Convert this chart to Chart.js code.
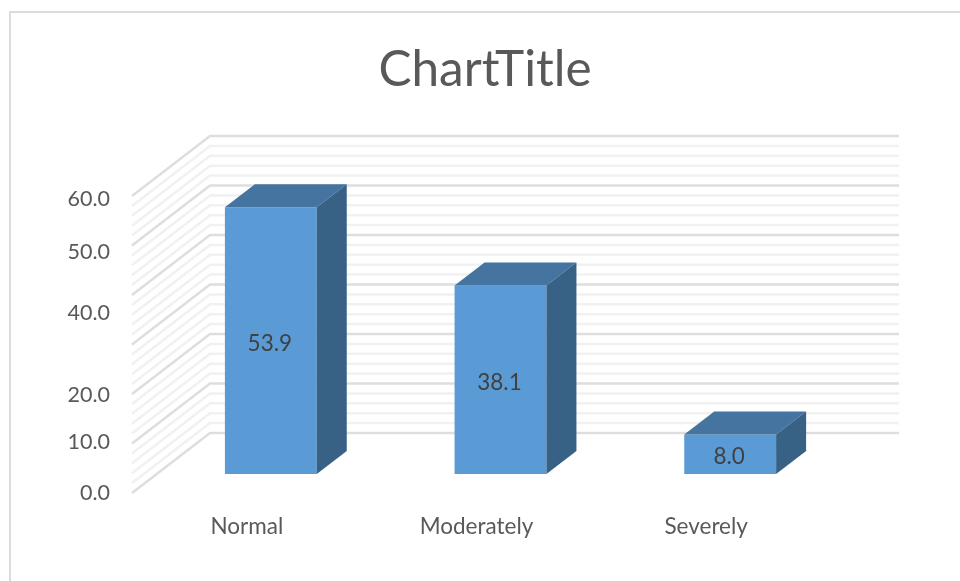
<!DOCTYPE html>
<html>
<head>
<meta charset="utf-8">
<title>ChartTitle</title>
<script src="https://cdn.jsdelivr.net/npm/chart.js@4"></script>
<style>
  html, body { margin: 0; background: #fff; }
  canvas { display: block; }
</style>
</head>
<body>
<canvas id="severityChart" width="960" height="581"></canvas>
<script>
const categories = ['Normal', 'Moderately', 'Severely'];
const percentages = [53.9, 38.1, 8.0];
const tickLabels = ['0.0', '10.0', '20.0', '40.0', '50.0', '60.0'];
const tickSpots = [0, 10.3, 19.8, 36.3, 48.6, 59.3];
const gridMax = 60;
const gridStep = 2;

// pseudo 3D setup, all in pixels
const unitPx = 4.95;
const barPlaneDrop = 19;    // floor at the bar plane sits this far above the front edge
const wallDx = 78, wallDy = 60, wallLeftInset = 24;
const barDx = 30, barDy = 23;
const plotTop = 135, plotBottom = 493;
const plotHeight = plotBottom - plotTop;

const font = 'Lato, Carlito, sans-serif';

const depthPlugin = {
  id: 'depth',
  afterLayout(chart) {
    // axis box has to reach the canvas edge or its labels get clipped
    chart.scales.yLabels.left = 0;
  },
  beforeDraw(chart) {
    // thin frame on the top and left only
    const c = chart.ctx;
    c.save();
    c.fillStyle = '#fff';
    c.fillRect(0, 0, chart.width, chart.height);
    c.strokeStyle = '#dcdcdc';
    c.lineWidth = 2;
    c.beginPath();
    c.moveTo(10, chart.height);
    c.lineTo(10, 12);
    c.lineTo(chart.width, 12);
    c.stroke();
    c.restore();
  },
  beforeDatasetsDraw(chart) {
    const c = chart.ctx;
    const y = chart.scales.y;
    const x = chart.scales.x;
    const frontX = x.left - wallLeftInset;
    const backX = frontX + wallDx;
    const backRight = backX + x.width;
    c.save();
    for (let v = 0; v <= gridMax; v += gridStep) {
      const major = v % 10 === 0;
      const frontY = y.getPixelForValue(v) + barPlaneDrop;
      c.strokeStyle = major ? '#dedede' : '#f1f1f1';
      c.lineWidth = 2.5;
      c.beginPath();
      c.moveTo(frontX, frontY);
      c.lineTo(backX, frontY - wallDy);
      c.lineTo(backRight, frontY - wallDy);
      c.stroke();
    }
    c.restore();
  },
  afterDatasetsDraw(chart) {
    const c = chart.ctx;
    const bars = chart.getDatasetMeta(0).data;
    c.save();
    bars.forEach((bar, i) => {
      const left = bar.x - bar.width / 2;
      const right = bar.x + bar.width / 2;
      // top face
      c.fillStyle = '#44749f';
      c.beginPath();
      c.moveTo(left, bar.y);
      c.lineTo(left + barDx, bar.y - barDy);
      c.lineTo(right + barDx, bar.y - barDy);
      c.lineTo(right, bar.y);
      c.closePath();
      c.fill();
      // side face
      c.fillStyle = '#376185';
      c.beginPath();
      c.moveTo(right, bar.y);
      c.lineTo(right + barDx, bar.y - barDy);
      c.lineTo(right + barDx, bar.base - barDy);
      c.lineTo(right, bar.base);
      c.closePath();
      c.fill();
      // value label
      c.fillStyle = '#404040';
      c.font = '22.5px ' + font;
      c.textAlign = 'center';
      c.textBaseline = 'middle';
      c.fillText(percentages[i].toFixed(1), bar.x - 1, (bar.y + bar.base) / 2 + 3);
    });
    c.restore();
  }
};

new Chart(document.getElementById('severityChart'), {
  type: 'bar',
  data: {
    labels: categories,
    datasets: [{
      data: percentages,
      backgroundColor: '#5b9bd5',
      barPercentage: 0.4,
      categoryPercentage: 1,
      yAxisID: 'y'
    }]
  },
  options: {
    responsive: false,
    animation: false,
    layout: { padding: { left: 125, right: 115, top: 0, bottom: 0 } },
    plugins: {
      legend: { display: false },
      tooltip: { enabled: false },
      title: {
        display: true,
        text: 'ChartTitle',
        color: '#595959',
        font: { family: font, size: 49.5, weight: 'normal', lineHeight: 1.2 },
        padding: { top: 40, bottom: 35.6 }
      }
    },
    scales: {
      x: {
        grid: { display: false, drawTicks: false },
        border: { display: false },
        ticks: { color: '#595959', font: { family: font, size: 22.5 }, padding: 20, labelOffset: -24, maxRotation: 0 },
        afterFit(scale) { scale.height = 581 - plotBottom; }
      },
      // bars live on this axis, one depth step behind the front edge
      y: {
        display: false,
        min: -barPlaneDrop / unitPx,
        max: (plotHeight - barPlaneDrop) / unitPx
      },
      // printed labels follow the front edge of the side wall
      yLabels: {
        position: 'left',
        min: 0,
        max: plotHeight / unitPx,
        grid: { display: false, drawTicks: false },
        border: { display: false },
        afterBuildTicks(scale) { scale.ticks = tickSpots.map(v => ({ value: v })); },
        ticks: {
          autoSkip: false,
          color: '#595959',
          font: { family: font, size: 21.5 },
          padding: 46,
          callback: (value, i) => tickLabels[i]
        },
        afterFit(scale) { scale.width = 31; }
      }
    }
  },
  plugins: [depthPlugin]
});
</script>
</body>
</html>
